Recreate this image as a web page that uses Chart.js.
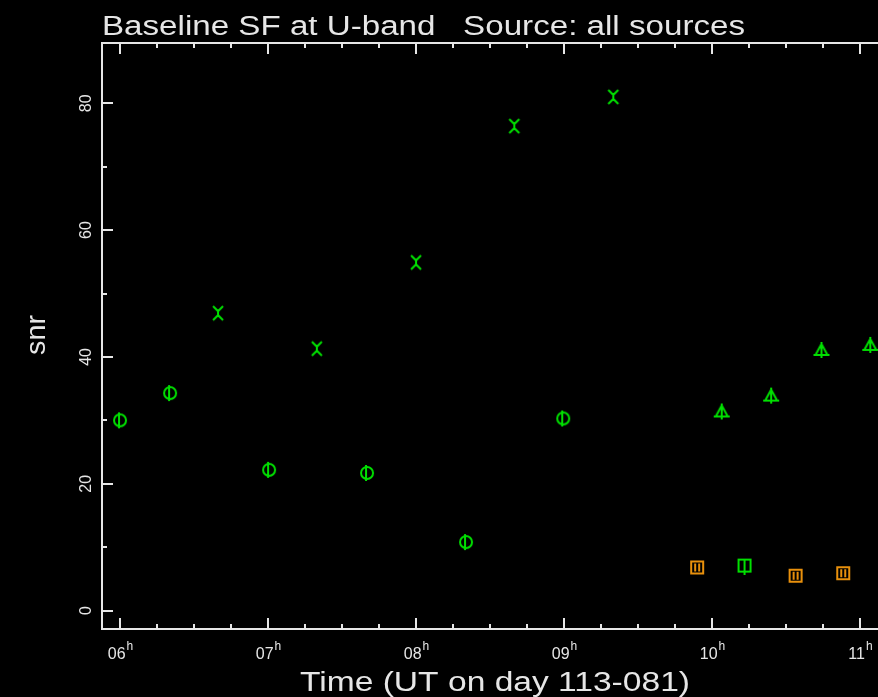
<!DOCTYPE html>
<html>
<head>
<meta charset="utf-8">
<script src="https://cdn.jsdelivr.net/npm/chart.js@4.4.1/dist/chart.umd.min.js"></script>
<style>
  html, body { margin: 0; padding: 0; background: #000; overflow: hidden; }
  #wrap { width: 878px; height: 697px; }
</style>
</head>
<body>
<div id="wrap"><canvas id="chart" width="878" height="697"></canvas></div>
<script>
// ── Texts ───────────────────────────────────────────────────────────────
const TITLE   = 'Baseline SF at U-band   Source: all sources';
const X_TITLE = 'Time (UT on day 113-081)';
const Y_TITLE = 'snr';

// ── Axes (hours UT / snr) ───────────────────────────────────────────────
const X_MIN = 5.878, X_MAX = 11.122;
const Y_MIN = -2.9,  Y_MAX = 89.5;
const X_MAJOR = [6, 7, 8, 9, 10, 11];
const X_LABELS = ['06', '07', '08', '09', '10', '11'];
const Y_MAJOR = [0, 20, 40, 60, 80];

// ── Series ──────────────────────────────────────────────────────────────
const circT   = [6.0, 6.338, 7.007, 7.669, 8.338, 8.995];
const circSnr = [30.0, 34.3, 22.2, 21.7, 10.8, 30.3];

const crossT   = [6.662, 7.330, 8.000, 8.664, 9.333];
const crossSnr = [46.9, 41.3, 54.9, 76.4, 81.0];

const triT   = [10.066, 10.400, 10.740, 11.070];
const triSnr = [31.4, 33.9, 41.1, 41.9];

const sqGreenT   = [10.220];
const sqGreenSnr = [7.1];

const sqOrangeT   = [9.900, 10.565, 10.887];
const sqOrangeSnr = [6.8, 5.5, 5.9];

const GREEN  = '#00e000';
const ORANGE = '#e8900c';
const FRAME  = '#e6e6e6';
const FONT   = "'Liberation Sans', 'DejaVu Sans', sans-serif";

// ── Marker glyphs (small pgplot-like symbols) ───────────────────────────
function glyph(draw, color) {
  const c = document.createElement('canvas');
  c.width = 18; c.height = 18;
  const g = c.getContext('2d');
  g.strokeStyle = color;
  g.lineWidth = 2;
  g.translate(9, 9);
  draw(g);
  return c;
}
const symCircle = glyph(g => {
  g.beginPath(); g.arc(0, 0, 6, 0, Math.PI * 2); g.stroke();
  g.beginPath(); g.moveTo(-1, -8); g.lineTo(-1, 8); g.stroke();
}, GREEN);
const symCross = glyph(g => {
  g.beginPath();
  g.moveTo(-5, -7); g.lineTo(0, -2); g.lineTo(5, -7);
  g.moveTo(-5, 7);  g.lineTo(0, 2);  g.lineTo(5, 7);
  g.moveTo(0, -4);  g.lineTo(0, 4);
  g.stroke();
}, GREEN);
const symTri = glyph(g => {
  g.beginPath();
  g.moveTo(0, -6); g.lineTo(-6, 5); g.lineTo(6, 5); g.closePath();
  g.moveTo(-8, 5); g.lineTo(8, 5);
  g.moveTo(0, -8); g.lineTo(0, 8);
  g.stroke();
}, GREEN);
const symSqGreen = glyph(g => {
  g.strokeRect(-6, -6, 12, 12);
  g.beginPath(); g.moveTo(0, -6); g.lineTo(0, 9); g.stroke();
}, GREEN);
const symSqOrange = glyph(g => {
  g.strokeRect(-6, -6, 12, 12);
  g.beginPath(); g.moveTo(-2, -4); g.lineTo(-2, 4); g.moveTo(2, -4); g.lineTo(2, 4); g.stroke();
}, ORANGE);

const pts = (xs, ys) => xs.map((x, i) => ({ x, y: ys[i] }));
const series = (data, sym) => ({
  data, pointStyle: sym, pointRadius: 8, pointHoverRadius: 8,
  showLine: false, clip: false,
});

// text stretched horizontally to a target width (pgplot font is wide)
function wideText(ctx, text, x, y, width, align) {
  const w = ctx.measureText(text).width;
  const sx = width / w;
  ctx.save();
  ctx.translate(x, y);
  ctx.scale(sx, 1);
  ctx.textAlign = align;
  ctx.fillText(text, 0, 0);
  ctx.restore();
}

// ── Frame, ticks and labels drawn from the chart scales ─────────────────
const framePlugin = {
  id: 'pgframe',
  afterDraw(chart) {
    const { ctx, chartArea: a, scales: { x, y } } = chart;
    ctx.save();
    ctx.strokeStyle = FRAME;
    ctx.lineWidth = 2;
    ctx.beginPath();
    ctx.moveTo(chart.width + 2, a.top); ctx.lineTo(a.left, a.top);
    ctx.lineTo(a.left, a.bottom); ctx.lineTo(chart.width + 2, a.bottom);
    ctx.stroke();

    // x ticks, bottom and top (every 15 min)
    ctx.beginPath();
    for (let t = 6; t <= X_MAX + 1e-6; t += 0.25) {
      const px = Math.round(x.getPixelForValue(t));
      const len = Math.abs(t - Math.round(t)) < 1e-6 ? 11 : 5;
      ctx.moveTo(px, a.bottom); ctx.lineTo(px, a.bottom - len);
      ctx.moveTo(px, a.top);    ctx.lineTo(px, a.top + len);
    }
    // y ticks (every 10)
    for (let v = 0; v <= Y_MAX; v += 10) {
      const py = Math.round(y.getPixelForValue(v));
      const len = v % 20 === 0 ? 11 : 5;
      ctx.moveTo(a.left, py); ctx.lineTo(a.left + len, py);
    }
    ctx.stroke();

    ctx.fillStyle = FRAME;
    // x tick labels with superscript h
    X_MAJOR.forEach((t, i) => {
      const px = x.getPixelForValue(t);
      ctx.font = `16px ${FONT}`;
      const w1 = ctx.measureText(X_LABELS[i]).width;
      ctx.font = `12px ${FONT}`;
      const w2 = ctx.measureText('h').width;
      const x0 = px - (w1 + w2) / 2;
      ctx.textBaseline = 'alphabetic';
      ctx.textAlign = 'left';
      ctx.font = `16px ${FONT}`;
      ctx.fillText(X_LABELS[i], x0, a.bottom + 30);
      ctx.font = `12px ${FONT}`;
      ctx.fillText('h', x0 + w1 + 1, a.bottom + 21);
    });

    // y tick labels, rotated
    ctx.font = `16px ${FONT}`;
    ctx.textAlign = 'center';
    ctx.textBaseline = 'alphabetic';
    Y_MAJOR.forEach(v => {
      const py = y.getPixelForValue(v);
      ctx.save();
      ctx.translate(a.left - 11, py);
      ctx.rotate(-Math.PI / 2);
      ctx.fillText(String(v), 0, 0);
      ctx.restore();
    });

    // titles
    ctx.font = `27px ${FONT}`;
    wideText(ctx, TITLE, a.left, 35, 643, 'left');
    wideText(ctx, X_TITLE, 495, 691, 390, 'center');
    ctx.save();
    ctx.translate(45, 335);
    ctx.rotate(-Math.PI / 2);
    wideText(ctx, Y_TITLE, 0, 0, 40, 'center');
    ctx.restore();
    ctx.restore();
  }
};

new Chart(document.getElementById('chart'), {
  type: 'scatter',
  data: {
    datasets: [
      series(pts(circT, circSnr), symCircle),
      series(pts(crossT, crossSnr), symCross),
      series(pts(triT, triSnr), symTri),
      series(pts(sqGreenT, sqGreenSnr), symSqGreen),
      series(pts(sqOrangeT, sqOrangeSnr), symSqOrange),
    ]
  },
  options: {
    responsive: false,
    animation: false,
    events: [],
    layout: { autoPadding: false, padding: { left: 102, top: 43, right: 0, bottom: 68 } },
    plugins: { legend: { display: false }, tooltip: { enabled: false } },
    scales: {
      x: { type: 'linear', min: X_MIN, max: X_MAX, display: false },
      y: { type: 'linear', min: Y_MIN, max: Y_MAX, display: false },
    }
  },
  plugins: [framePlugin]
});
</script>
</body>
</html>
